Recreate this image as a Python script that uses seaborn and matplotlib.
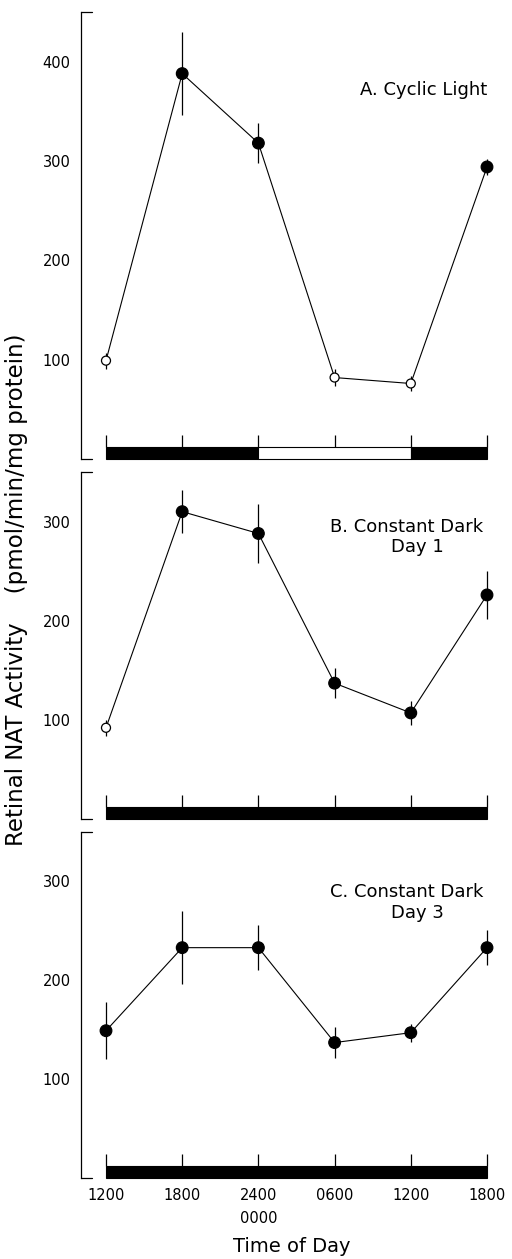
import numpy as np
import pandas as pd
import matplotlib
matplotlib.use("Agg")
import matplotlib.pyplot as plt
import seaborn as sns

# ---- data ----
time_labels = ["1200", "1800", "2400\n0000", "0600", "1200", "1800"]

a_mean = [99, 388, 318, 82, 76, 294]
a_err = [8, 42, 20, 9, 8, 8]
a_open = [True, False, False, True, True, False]

b_mean = [92, 310, 288, 137, 107, 226]
b_err = [8, 22, 30, 15, 12, 24]
b_open = [True, False, False, False, False, False]

c_mean = [149, 233, 233, 137, 147, 233]
c_err = [29, 37, 23, 16, 9, 18]
c_open = [False, False, False, False, False, False]

a_phase = ["dark", "dark", "light", "light", "dark"]
b_phase = ["dark", "dark", "dark", "dark", "dark"]
c_phase = ["dark", "dark", "dark", "dark", "dark"]

a_ticks_major = [100, 200, 300, 400]
a_ticks_minor = [50, 150, 250, 350]
bc_ticks_major = [100, 200, 300]
bc_ticks_minor = [50, 150, 250]

sns.set_style("white")
plt.rcParams['font.family'] = ['DejaVu Sans']
for k in ["text.color", "axes.labelcolor", "xtick.color", "ytick.color",
          "axes.edgecolor"]:
    plt.rcParams[k] = "black"

W, H = 512, 1259
fig = plt.figure(figsize=(W / 100, H / 100), dpi=100)

left_px, right_px = 81, 500
x0_px, step_px = 106, 76.2
xlim = ((left_px - x0_px) / step_px, (right_px - x0_px) / step_px)


def make_ax(top_px, bot_px):
    return fig.add_axes([left_px / W, 1 - bot_px / H,
                         (right_px - left_px) / W, (bot_px - top_px) / H])


def phase_runs(phase):
    runs = []
    start = 0
    for i in range(1, len(phase) + 1):
        if i == len(phase) or phase[i] != phase[start]:
            runs.append((start, i - start, phase[start]))
            start = i
    return runs


def draw_panel(ax, mean, err, opn, phase, ymax, major, minor):
    x = np.arange(len(mean))
    df = pd.DataFrame({"x": x, "y": mean, "err": err,
                       "kind": ["open" if o else "filled" for o in opn]})
    ax.errorbar(df["x"], df["y"], yerr=df["err"], fmt="none",
                ecolor="black", elinewidth=0.9, capsize=0, zorder=2)
    sns.lineplot(data=df, x="x", y="y", color="black", lw=0.8, ax=ax,
                 zorder=3, legend=False)
    sns.scatterplot(data=df, x="x", y="y", hue="kind", size="kind",
                    palette={"filled": "black", "open": "white"},
                    sizes={"filled": 70, "open": 42},
                    edgecolor="black", linewidth=0.9, ax=ax, zorder=4,
                    legend=False)
    # light/dark bar
    for start, length, ph in phase_runs(phase):
        ax.bar(start, 12, width=length, bottom=0, align="edge",
               color="black" if ph == "dark" else "white",
               edgecolor="black", linewidth=0.8, zorder=2, clip_on=False)
    ax.vlines(x, 12, 24, color="black", lw=0.9)
    ax.set_xlim(*xlim)
    ax.set_ylim(0, ymax)
    for s in ["top", "right", "bottom"]:
        ax.spines[s].set_visible(False)
    ax.spines["left"].set_linewidth(0.9)
    ax.spines["left"].set_color("black")
    ax.set_yticks(major)
    ax.set_yticks(minor, minor=True)
    ax.tick_params(axis="y", which="major", direction="out", length=6,
                   width=0.9, pad=1.5, labelsize=10.5, colors="black")
    ax.tick_params(axis="y", which="minor", direction="out", length=3,
                   width=0.9, colors="black")
    ax.plot([0, 11 / (right_px - left_px)], [1, 1], color="black", lw=0.9,
            transform=ax.transAxes, clip_on=False)
    ax.plot([0, 11 / (right_px - left_px)], [0, 0], color="black", lw=0.9,
            transform=ax.transAxes, clip_on=False)
    ax.set_xlabel("")
    ax.set_ylabel("")


axA = make_ax(12, 459)
draw_panel(axA, a_mean, a_err, a_open, a_phase, 450, a_ticks_major, a_ticks_minor)
axA.set_xticks([])
axA.text(5.0, 371, "A. Cyclic Light", ha="right", va="center", fontsize=13)

axB = make_ax(472, 819)
draw_panel(axB, b_mean, b_err, b_open, b_phase, 350, bc_ticks_major, bc_ticks_minor)
axB.set_xticks([])
axB.text(4.95, 295, "B. Constant Dark", ha="right", va="center", fontsize=13)
axB.text(4.09, 274, "Day 1", ha="center", va="center", fontsize=13)

axC = make_ax(832, 1178)
draw_panel(axC, c_mean, c_err, c_open, c_phase, 350, bc_ticks_major, bc_ticks_minor)
axC.text(4.95, 289, "C. Constant Dark", ha="right", va="center", fontsize=13)
axC.text(4.09, 268, "Day 3", ha="center", va="center", fontsize=13)
axC.set_xticks(np.arange(len(time_labels)))
axC.set_xticklabels(time_labels, fontsize=10.5, linespacing=1.7)
axC.tick_params(axis="x", length=0, pad=7, colors="black")

fig.text(292 / W, 1 - 1247 / H, "Time of Day", ha="center", va="center",
         fontsize=14)
fig.text(17 / W, 1 - 590 / H, "Retinal NAT Activity    (pmol/min/mg protein)",
         rotation=90, ha="center", va="center", fontsize=16.5)

fig.savefig("out.png", dpi=100, facecolor="white")
